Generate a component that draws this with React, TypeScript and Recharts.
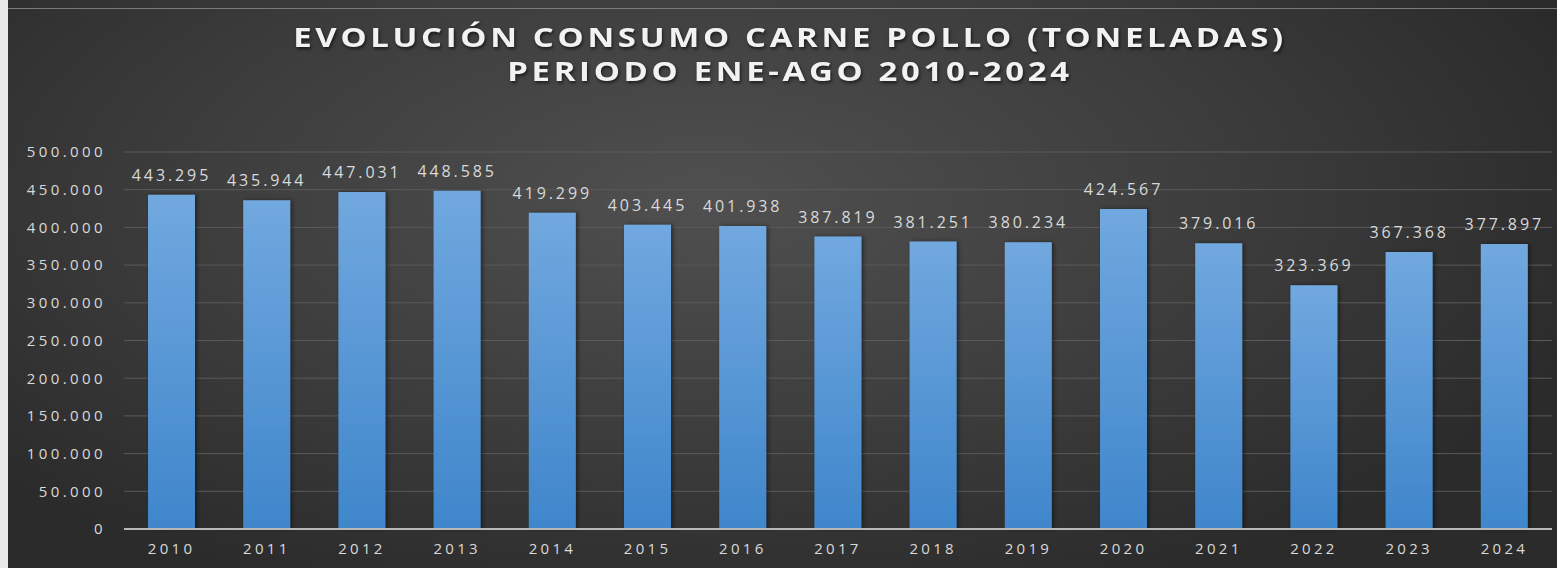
import React from "react";
import {
  BarChart,
  Bar,
  XAxis,
  YAxis,
  CartesianGrid,
  LabelList,
} from "recharts";

const years = [
  "2010", "2011", "2012", "2013", "2014", "2015", "2016", "2017",
  "2018", "2019", "2020", "2021", "2022", "2023", "2024",
];

const toneladas = [
  443295, 435944, 447031, 448585, 419299, 403445, 401938, 387819,
  381251, 380234, 424567, 379016, 323369, 367368, 377897,
];

const yTicks = [0, 50000, 100000, 150000, 200000, 250000, 300000, 350000, 400000, 450000, 500000];

const titleLines = [
  "EVOLUCIÓN CONSUMO CARNE POLLO (TONELADAS)",
  "PERIODO ENE-AGO 2010-2024",
];

const data = years.map((year, i) => ({ year, value: toneladas[i] }));

// miles con punto, como en el original
const fmt = (v: number) => String(v).replace(/\B(?=(\d{3})+(?!\d))/g, ".");

const textColor = "#d9d9d9";
const font = "'Open Sans', sans-serif";

const renderLabel = (props: any) => {
  const { x, y, width, value } = props;
  return (
    <text
      x={x + width / 2}
      y={y - 14}
      textAnchor="middle"
      fill={textColor}
      fontSize={16}
      fontFamily={font}
      letterSpacing={2.9}
    >
      {fmt(value)}
    </text>
  );
};

export default function App() {
  return (
    <div
      style={{
        position: "fixed",
        left: 0,
        top: 0,
        width: 1557,
        height: 568,
        background: "#e8e8e8",
        overflow: "hidden",
      }}
    >
      <div
        style={{
          position: "absolute",
          left: 8,
          top: 0,
          width: 1549,
          height: 568,
          background:
            "radial-gradient(ellipse 60% 75% at 45% 35%, #505050 0%, #3d3d3d 55%, #2b2b2b 100%)",
        }}
      >
        <div
          style={{
            position: "absolute",
            left: 0,
            top: 8,
            width: 1549,
            height: 1,
            background: "#7a7a7a",
          }}
        />
        {titleLines.map((line, i) => (
          <div
            key={i}
            style={{
              position: "absolute",
              left: 782 - 700,
              width: 1400,
              top: i === 0 ? 19 : 53,
              textAlign: "center",
              color: "#f2f2f2",
              fontFamily: font,
              fontWeight: 700,
              fontSize: 27,
              letterSpacing: 3,
              lineHeight: "36px",
              textShadow: "1px 2px 3px rgba(0,0,0,0.6)",
              whiteSpace: "nowrap",
              transform: "scaleX(1.22)",
              transformOrigin: "center",
            }}
          >
            {line}
          </div>
        ))}
        <BarChart
          width={1549}
          height={568}
          data={data}
          margin={{ top: 152, right: 5, bottom: 9, left: 0 }}
          barSize={47}
        >
          <defs>
            <linearGradient id="barFill" x1="0" y1="0" x2="0" y2="1">
              <stop offset="0%" stopColor="#71a8df" />
              <stop offset="100%" stopColor="#3f86cb" />
            </linearGradient>
            <filter id="barShadow" x="-20%" y="-5%" width="140%" height="110%">
              <feDropShadow dx="2" dy="0" stdDeviation="2" floodColor="#000" floodOpacity="0.45" />
            </filter>
          </defs>
          <CartesianGrid vertical={false} stroke="#5a5a5a" strokeWidth={1} />
          <XAxis
            dataKey="year"
            axisLine={{ stroke: "#b8b8b8", strokeWidth: 2 }}
            tickLine={false}
            tickSize={0}
            tickMargin={14}
            tick={{ fill: textColor, fontSize: 15, fontFamily: font, letterSpacing: 3.3 }}
            interval={0}
          />
          <YAxis
            domain={[0, 500000]}
            ticks={yTicks}
            width={116}
            axisLine={false}
            tickLine={false}
            tickSize={0}
            tickMargin={18}
            tickFormatter={fmt}
            tick={{ fill: textColor, fontSize: 15, fontFamily: font, letterSpacing: 3.4 }}
          />
          <Bar
            dataKey="value"
            fill="url(#barFill)"
            filter="url(#barShadow)"
            isAnimationActive={false}
          >
            <LabelList dataKey="value" content={renderLabel} />
          </Bar>
        </BarChart>
      </div>
    </div>
  );
}
